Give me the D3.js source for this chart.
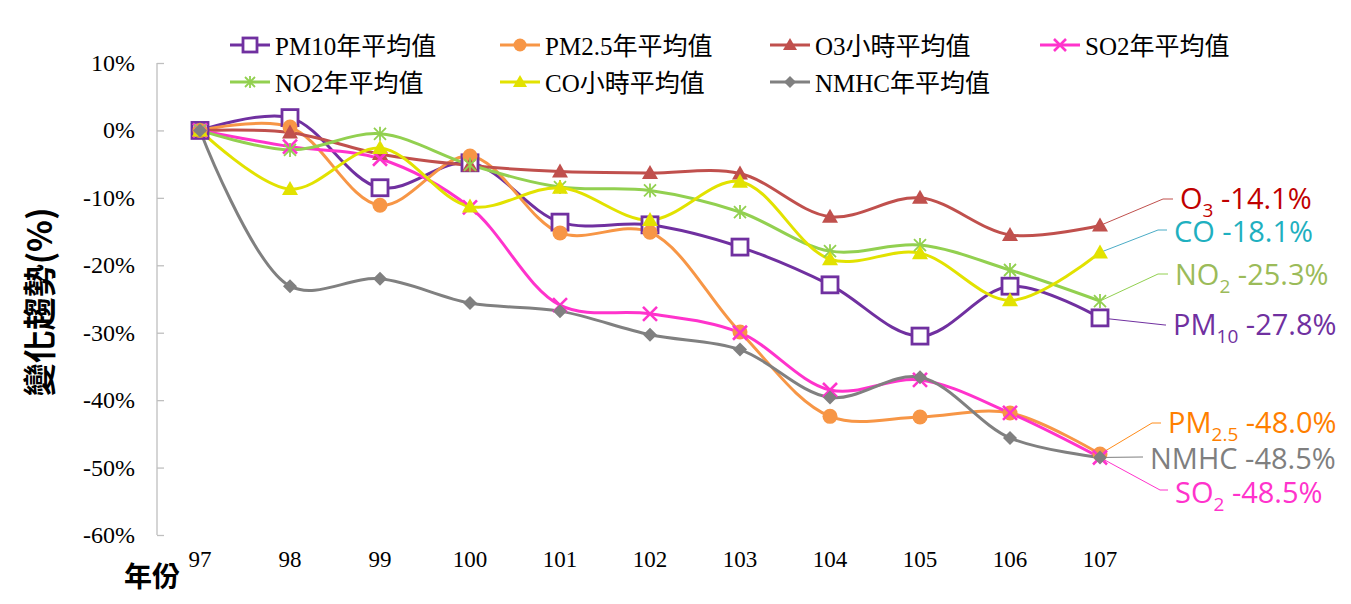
<!DOCTYPE html>
<html>
<head>
<meta charset="utf-8">
<script src="https://cdn.jsdelivr.net/npm/d3@7"></script>
<style>
  body { margin: 0; background: #fff; }
  svg { display: block; }
  .serif { font-family: 'Liberation Serif', 'Noto Sans CJK TC', serif; }
</style>
</head>
<body>
<svg id="chart" width="1351" height="604"></svg>
<script>
// categories (year, ROC calendar)
var years = ["97", "98", "99", "100", "101", "102", "103", "104", "105", "106", "107"];
var yTicks = [0.10, 0, -0.10, -0.20, -0.30, -0.40, -0.50, -0.60];

// change vs year 97, in %
var pm10  = [0, 1.9, -8.5, -4.8, -13.6, -14.0, -17.3, -22.9, -30.5, -23.1, -27.8];
var pm25  = [0, 0.5, -11.1, -3.8, -15.2, -15.1, -29.9, -42.4, -42.5, -41.9, -48.0];
var o3    = [0, -0.3, -3.5, -5.2, -6.1, -6.3, -6.4, -12.8, -10.0, -15.5, -14.1];
var so2   = [0, -2.4, -4.2, -11.4, -25.9, -27.2, -30.0, -38.5, -37.0, -41.9, -48.5];
var no2   = [0, -2.9, -0.5, -5.1, -8.4, -8.9, -12.1, -17.9, -17.0, -20.7, -25.3];
var co    = [0, -8.7, -2.6, -11.3, -8.5, -13.3, -7.6, -19.1, -18.2, -25.2, -18.1];
var nmhc  = [0, -23.1, -22.0, -25.6, -26.8, -30.3, -32.5, -39.6, -36.6, -45.6, -48.5];

var seriesNames = ["PM10年平均值", "PM2.5年平均值", "O3小時平均值", "SO2年平均值", "NO2年平均值", "CO小時平均值", "NMHC年平均值"];

var series = [
  {name: seriesNames[0], values: pm10, color: "#7030A0", marker: "square"},
  {name: seriesNames[1], values: pm25, color: "#F79646", marker: "circle"},
  {name: seriesNames[2], values: o3,   color: "#C0504D", marker: "triangle"},
  {name: seriesNames[3], values: so2,  color: "#FF33CC", marker: "x"},
  {name: seriesNames[4], values: no2,  color: "#92D050", marker: "star"},
  {name: seriesNames[5], values: co,   color: "#E2E200", marker: "triangle"},
  {name: seriesNames[6], values: nmhc, color: "#808080", marker: "diamond"}
];

// end-of-line labels
var endLabels = [
  {main: "O", sub: "3", val: " -14.1%", color: "#C00000", line: "#C0504D", s: 2, ly: 199, base: 209, tx: 1180, ex: 1163},
  {main: "CO", sub: "", val: " -18.1%", color: "#1FB0C0", line: "#4BACC6", s: 5, ly: 230, base: 242, tx: 1174, ex: 1158},
  {main: "NO", sub: "2", val: " -25.3%", color: "#9BBB59", line: "#92D050", s: 4, ly: 274, base: 285, tx: 1175, ex: 1158},
  {main: "PM", sub: "10", val: " -27.8%", color: "#7030A0", line: "#7030A0", s: 0, ly: 325, base: 335, tx: 1173, ex: 1165},
  {main: "PM", sub: "2.5", val: " -48.0%", color: "#FF7F00", line: "#FF8C1A", s: 1, ly: 423, base: 433, tx: 1168, ex: 1152},
  {main: "NMHC", sub: "", val: " -48.5%", color: "#7F7F7F", line: "#7F7F7F", s: 6, ly: 457, base: 469, tx: 1150, ex: 1142},
  {main: "SO", sub: "2", val: " -48.5%", color: "#FF33CC", line: "#FF33CC", s: 3, ly: 490, base: 503, tx: 1175, ex: 1160}
];

var svg = d3.select("#chart");

var x = d3.scaleBand().domain(years).range([155, 1145]);
var y = d3.scaleLinear().domain([-0.60, 0.10]).range([535, 63]);

function cx(i) { return x(years[i]) + x.bandwidth() / 2; }

// y axis: line + ticks from d3, labels drawn by hand
var yAxis = d3.axisRight(y).tickValues(yTicks).tickSize(7).tickFormat("");
var ga = svg.append("g").attr("transform", "translate(157,0)").call(yAxis);
ga.select(".domain").attr("stroke", "#BFBFBF").attr("stroke-width", 1.3).attr("d", "M0," + y(0.10) + "V" + y(-0.60));
ga.selectAll(".tick line").attr("stroke", "#BFBFBF").attr("stroke-width", 1.3);

svg.append("g").selectAll("text")
  .data(yTicks).enter().append("text")
  .attr("class", "serif")
  .attr("x", 135)
  .attr("y", function (d) { return y(d) + 8; })
  .attr("text-anchor", "end")
  .attr("font-size", 24)
  .text(function (d) { return Math.round(d * 100) + "%"; });

// x labels (no axis line)
svg.append("g").selectAll("text")
  .data(years).enter().append("text")
  .attr("class", "serif")
  .attr("x", function (d, i) { return cx(i); })
  .attr("y", 567)
  .attr("text-anchor", "middle")
  .attr("font-size", 23)
  .text(function (d) { return d; });

// axis titles
svg.append("text")
  .attr("x", 152).attr("y", 587)
  .attr("text-anchor", "middle")
  .attr("font-family", "'Noto Sans CJK TC', sans-serif")
  .attr("font-weight", "bold")
  .attr("font-size", 28)
  .text("年份");

svg.append("text")
  .attr("transform", "translate(52,302) rotate(-90)")
  .attr("text-anchor", "middle")
  .attr("font-family", "'Noto Sans CJK TC', sans-serif")
  .attr("font-weight", "bold")
  .attr("font-size", 33)
  .text("變化趨勢(%)");

var line = d3.line()
  .x(function (d, i) { return cx(i); })
  .y(function (d) { return y(d / 100); })
  .curve(d3.curveCatmullRom.alpha(0.5));

function drawMarker(g, type, color, px, py, size) {
  var s = size || 7;
  if (type === "square") {
    s = s + 1;
    g.append("rect").attr("x", px - s).attr("y", py - s).attr("width", 2 * s).attr("height", 2 * s)
      .attr("fill", "#fff").attr("stroke", color).attr("stroke-width", 2.8);
  } else if (type === "circle") {
    g.append("circle").attr("cx", px).attr("cy", py).attr("r", s + 0.5).attr("fill", color);
  } else if (type === "triangle") {
    g.append("path").attr("d", "M" + px + "," + (py - s - 1) + "L" + (px + s + 1) + "," + (py + s - 1) + "L" + (px - s - 1) + "," + (py + s - 1) + "Z")
      .attr("fill", color);
  } else if (type === "x") {
    g.append("path").attr("d", "M" + (px - s) + "," + (py - s) + "L" + (px + s) + "," + (py + s) + "M" + (px + s) + "," + (py - s) + "L" + (px - s) + "," + (py + s))
      .attr("stroke", color).attr("stroke-width", 2.6);
  } else if (type === "star") {
    var r = s - 1;
    g.append("path").attr("d",
      "M" + (px - r) + "," + (py - r) + "L" + (px + r) + "," + (py + r) +
      "M" + (px + r) + "," + (py - r) + "L" + (px - r) + "," + (py + r) +
      "M" + px + "," + (py - r - 1) + "L" + px + "," + (py + r + 1))
      .attr("stroke", color).attr("stroke-width", 1.8);
  } else if (type === "diamond") {
    g.append("path").attr("d", "M" + px + "," + (py - s) + "L" + (px + s) + "," + py + "L" + px + "," + (py + s) + "L" + (px - s) + "," + py + "Z")
      .attr("fill", color);
  }
}

// leader lines + end labels (under series)
var lab = svg.append("g");
endLabels.forEach(function (d) {
  var v = series[d.s].values;
  var px = cx(v.length - 1), py = y(v[v.length - 1] / 100);
  lab.append("path")
    .attr("d", "M" + px + "," + py + "L" + d.ex + "," + d.ly + "L" + (d.tx - 7) + "," + d.ly)
    .attr("fill", "none").attr("stroke", d.line).attr("stroke-width", 1);
  var t = lab.append("text")
    .attr("x", d.tx).attr("y", d.base)
    .attr("font-family", "'Open Sans', 'Noto Sans', sans-serif")
    .attr("font-size", 29)
    .attr("fill", d.color);
  t.append("tspan").text(d.main);
  if (d.sub) {
    t.append("tspan").attr("dy", 8).attr("font-size", 19).text(d.sub);
    t.append("tspan").attr("dy", -8).text(d.val);
  } else {
    t.append("tspan").text(d.val);
  }
});

// series lines
var gs = svg.append("g");
series.forEach(function (s) {
  gs.append("path")
    .datum(s.values)
    .attr("d", line)
    .attr("fill", "none")
    .attr("stroke", s.color)
    .attr("stroke-width", 3);
});
series.forEach(function (s) {
  var g = gs.append("g");
  s.values.forEach(function (v, i) {
    drawMarker(g, s.marker, s.color, cx(i), y(v / 100));
  });
});

// legend
var legendPos = [[230, 45], [500, 45], [770, 45], [1040, 45], [230, 82], [500, 82], [770, 82]];
var lg = svg.append("g");
series.forEach(function (s, i) {
  var lx = legendPos[i][0], ly = legendPos[i][1];
  lg.append("line").attr("x1", lx).attr("x2", lx + 40).attr("y1", ly).attr("y2", ly)
    .attr("stroke", s.color).attr("stroke-width", 3);
  drawMarker(lg, s.marker, s.color, lx + 20, ly, 6);
  lg.append("text")
    .attr("class", "serif")
    .attr("x", lx + 45).attr("y", ly + 10)
    .attr("font-size", 25)
    .text(s.name);
});
</script>
</body>
</html>
